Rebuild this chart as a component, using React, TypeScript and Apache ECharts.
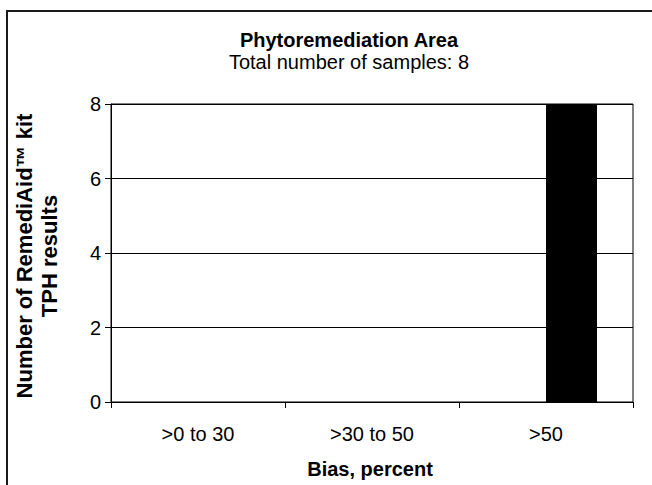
import React, { useEffect, useRef } from "react";
import * as echarts from "echarts";

const categories = [">0 to 30", ">30 to 50", ">50"];
const otherSeries = [0, 0, 0];
const phytoCounts = [0, 0, 8];
const yTicks = { min: 0, max: 8, interval: 2 };

const titleText = "Phytoremediation Area";
const subtitleText = "Total number of samples: 8";
const yTitle = "Number of RemediAid\u2122 kit\nTPH results";
const xTitle = "Bias, percent";

const FONT = "Liberation Sans, Arial, sans-serif";

export default function App() {
  const ref = useRef<HTMLDivElement>(null);
  useEffect(() => {
    if (!ref.current) return;
    const chart = echarts.init(ref.current, undefined, { renderer: "svg" });
    chart.setOption({
      animation: false,
      backgroundColor: "#fff",
      grid: {
        left: 111,
        top: 104,
        right: 19,
        bottom: 83,
        show: true,
        borderColor: "#000",
        borderWidth: 1,
        backgroundColor: "transparent",
      },
      xAxis: {
        type: "category",
        data: categories,
        boundaryGap: true,
        axisLine: { show: true, lineStyle: { color: "#000", width: 1 } },
        axisTick: { show: true, alignWithLabel: false, length: 6, lineStyle: { color: "#000" } },
        axisLabel: { color: "#000", fontFamily: FONT, fontSize: 20, margin: 22 },
        splitLine: { show: false },
      },
      yAxis: {
        type: "value",
        min: yTicks.min,
        max: yTicks.max,
        interval: yTicks.interval,
        axisLine: { show: true, lineStyle: { color: "#000", width: 1 } },
        axisTick: { show: true, length: 6, lineStyle: { color: "#000" } },
        axisLabel: { color: "#000", fontFamily: FONT, fontSize: 20, margin: 10 },
        splitLine: { show: true, lineStyle: { color: "#000", width: 1, type: "solid" } },
      },
      series: [
        {
          type: "bar",
          name: "Other",
          data: otherSeries,
          barWidth: 51,
          barGap: "0%",
          itemStyle: { color: "#000" },
        },
        {
          type: "bar",
          name: "Phytoremediation Area",
          data: phytoCounts,
          barWidth: 51,
          barGap: "0%",
          itemStyle: { color: "#000" },
        },
      ],
      graphic: [
        {
          type: "rect",
          shape: { x: 7, y: 11, width: 700, height: 520 },
          style: { fill: "none", stroke: "#1a1a1a", lineWidth: 2 },
          silent: true,
        },
        {
          type: "text",
          x: 349,
          y: 40,
          style: {
            text: titleText,
            fontFamily: FONT,
            fontSize: 20,
            fontWeight: "bold",
            fill: "#000",
            align: "center",
            verticalAlign: "middle",
          },
        },
        {
          type: "text",
          x: 349,
          y: 62,
          style: {
            text: subtitleText,
            fontFamily: FONT,
            fontSize: 20,
            fill: "#000",
            align: "center",
            verticalAlign: "middle",
          },
        },
        {
          type: "text",
          x: 37,
          y: 256,
          rotation: Math.PI / 2,
          style: {
            text: yTitle,
            fontFamily: FONT,
            fontSize: 22,
            fontWeight: "bold",
            lineHeight: 25,
            fill: "#000",
            align: "center",
            verticalAlign: "middle",
          },
        },
        {
          type: "text",
          x: 370,
          y: 469,
          style: {
            text: xTitle,
            fontFamily: FONT,
            fontSize: 20,
            fontWeight: "bold",
            fill: "#000",
            align: "center",
            verticalAlign: "middle",
          },
        },
      ],
    });
    return () => chart.dispose();
  }, []);
  return (
    <div
      ref={ref}
      style={{ position: "fixed", left: 0, top: 0, width: 652, height: 485 }}
    />
  );
}
